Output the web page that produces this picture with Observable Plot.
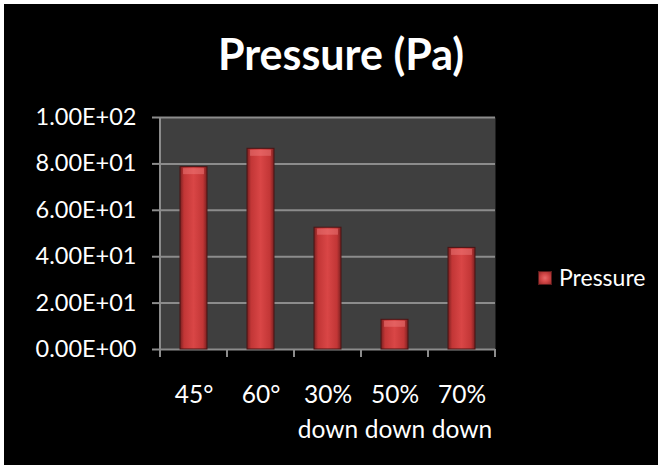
<!DOCTYPE html>
<html>
<head>
<meta charset="utf-8">
<script src="https://cdn.jsdelivr.net/npm/d3@7"></script>
<script src="https://cdn.jsdelivr.net/npm/@observablehq/plot@0.6"></script>
<style>
  html, body { margin: 0; padding: 0; background: #ffffff; }
  #page { position: relative; width: 658px; height: 465px; overflow: hidden; }
  #bg { position: absolute; left: 4px; top: 4px; right: 0; bottom: 0; background: #000; }
  #title { position: absolute; left: 0; width: 682px; top: 32px; text-align: center;
           font-family: Lato, "Open Sans", sans-serif; font-weight: 700; font-size: 43px;
           line-height: 1; color: #fff; }
  #chart { position: absolute; left: 0; top: 0; }
  #legend { position: absolute; left: 538px; top: 266px; display: flex; align-items: center;
            font-family: Lato, "Open Sans", sans-serif; font-size: 23px; line-height: 1; color: #fff; }
  #legend .sw { width: 14px; height: 14px; margin-right: 7px;
                background: radial-gradient(circle, #e86a6a 0%, #d44848 45%, #9a2a2a 100%);
                border: 1px solid #5a1a1a; box-sizing: border-box; }
</style>
</head>
<body>
<div id="page">
  <div id="bg"></div>
  <div id="chart"></div>
  <div id="title">Pressure (Pa)</div>
  <div id="legend"><div class="sw"></div><span>Pressure</span></div>
</div>
<script>
const categories = ["45°", "60°", "30%\ndown", "50%\ndown", "70%\ndown"];
const pressure = [78.6, 86.5, 52.5, 12.8, 43.8];
const yTicks = [0, 20, 40, 60, 80, 100];
const seriesName = "Pressure";

const data = categories.map((c, i) => ({cat: c, value: pressure[i], series: seriesName}));

function sciFormat(d) {
  const [m, e] = d.toExponential(2).split("e");
  const sign = e[0] === "-" ? "-" : "+";
  return m + "E" + sign + String(Math.abs(+e)).padStart(2, "0");
}

const gray = "#8c8c8c";

const boundaryMark = (index, scales, values, dimensions) => {
  const x = scales.x;
  const bw = x.bandwidth();
  const top = dimensions.marginTop;
  const bottom = dimensions.height - dimensions.marginBottom;
  const left = dimensions.marginLeft;
  const g = d3.create("svg:g").attr("stroke", gray).attr("stroke-width", 2);
  g.append("line").attr("x1", left).attr("x2", left).attr("y1", top).attr("y2", bottom + 1);
  const xs = categories.map(c => x(c)).concat([x(categories[categories.length - 1]) + bw]);
  for (const xv of xs) {
    g.append("line").attr("x1", xv).attr("x2", xv).attr("y1", bottom).attr("y2", bottom + 8);
  }
  return g.node();
};

const svg = Plot.plot({
  width: 658,
  height: 465,
  marginLeft: 160,
  marginRight: 163,
  marginTop: 117,
  marginBottom: 116,
  style: {background: "transparent", color: "#ffffff", fontFamily: "Lato, 'Open Sans', sans-serif", fontSize: "24px"},
  x: {domain: categories, padding: 0, label: null},
  y: {domain: [0, 100], label: null},
  marks: [
    Plot.frame({fill: "#3f3f3f", stroke: null}),
    Plot.gridY(yTicks, {stroke: gray, strokeOpacity: 1, strokeWidth: 2}),
    Plot.barY(data, {x: "cat", y: "value", insetLeft: 20, insetRight: 20, fill: "url(#barGrad)", stroke: "#4a1414", strokeWidth: 1}),
    Plot.tickY(data, {x: "cat", y: "value", dy: 4, insetLeft: 23, insetRight: 23, stroke: "#f28080", strokeWidth: 6, strokeOpacity: 0.45}),
    Plot.axisY(yTicks, {tickSize: 8, tickPadding: 16, tickFormat: sciFormat, stroke: gray, strokeWidth: 2, fill: "#ffffff", fontSize: 23.5}),
    Plot.axisX({tickSize: 0, tickPadding: 29, lineHeight: 1.42, fill: "#ffffff", fontSize: 24.5}),
    boundaryMark
  ]
});

svg.insertAdjacentHTML("afterbegin",
  '<defs><linearGradient id="barGrad" x1="0" x2="1" y1="0" y2="0">' +
  '<stop offset="0" stop-color="#7a2020"/>' +
  '<stop offset="0.15" stop-color="#c23636"/>' +
  '<stop offset="0.5" stop-color="#d94646"/>' +
  '<stop offset="0.85" stop-color="#c23636"/>' +
  '<stop offset="1" stop-color="#7a2020"/>' +
  '</linearGradient></defs>');

document.getElementById("chart").appendChild(svg);
</script>
</body>
</html>
